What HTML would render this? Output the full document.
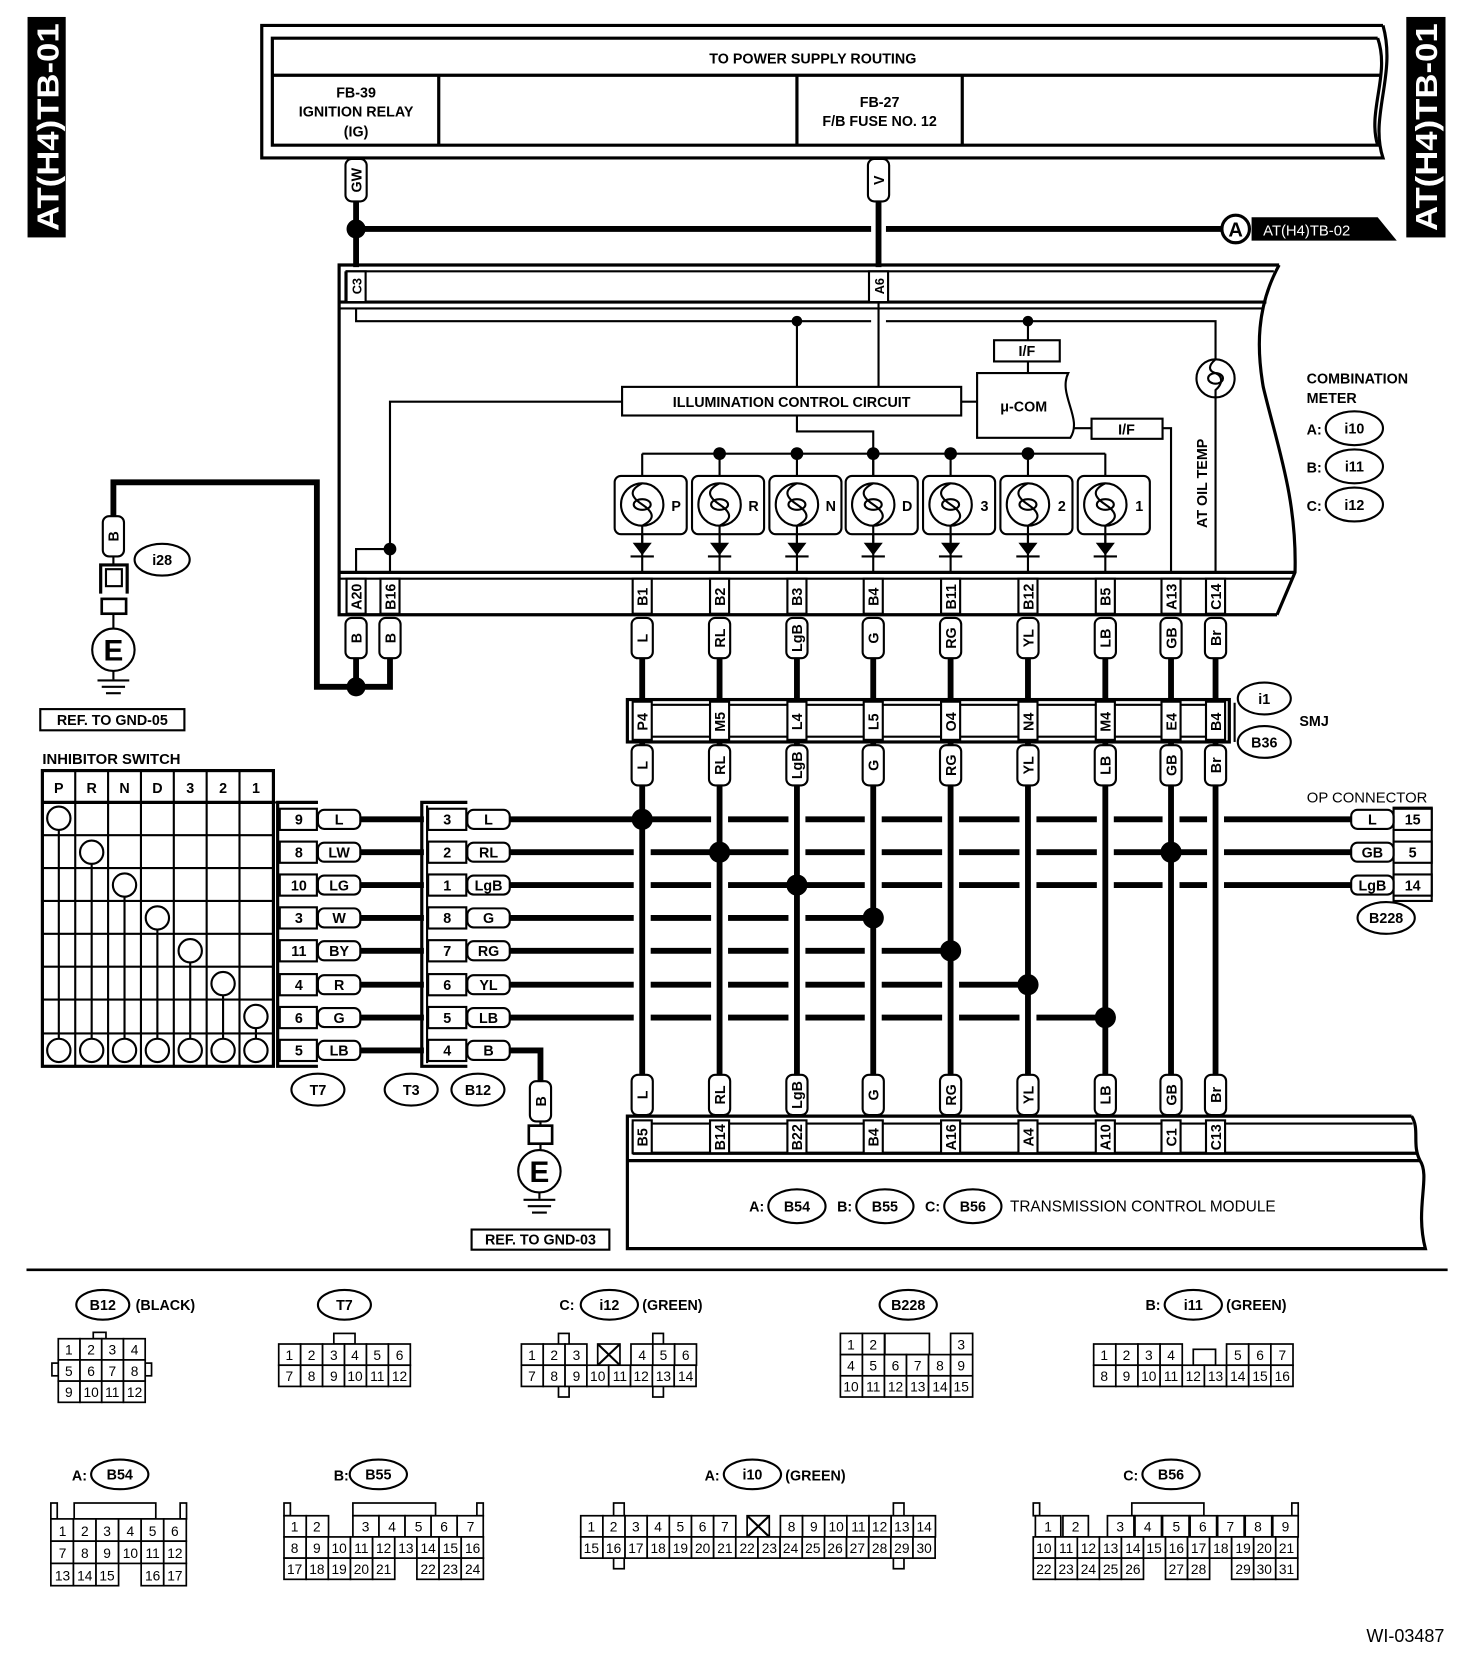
<!DOCTYPE html>
<html><head><meta charset="utf-8"><style>
html,body{margin:0;padding:0;background:#fff}
svg{display:block}
text{font-family:"Liberation Sans",sans-serif;font-weight:bold;font-size:13.5px;fill:#000}
.n text,text.n{font-weight:normal;font-size:13px}
.s{fill:none;stroke:#000;stroke-width:2}
.t{fill:none;stroke:#000;stroke-width:3}
.w{fill:none;stroke:#000;stroke-width:5.5}
.wc{fill:none;stroke:#fff;stroke-width:16}
.p{fill:#fff;stroke:#000;stroke-width:2}
.c rect{fill:#fff;stroke:#000;stroke-width:1.6}
</style></head><body>
<svg width="1472" height="1662" viewBox="0 0 1389 1568" preserveAspectRatio="none" xmlns="http://www.w3.org/2000/svg">
<g text-anchor="middle">
<rect x="26" y="16" width="36" height="208" fill="#000"/>
<text transform="translate(55,120) rotate(-90)" style="font-size:29px;fill:#fff" textLength="196" lengthAdjust="spacingAndGlyphs">AT(H4)TB-01</text>
<rect x="1327" y="16" width="37" height="208" fill="#000"/>
<text transform="translate(1356,120) rotate(-90)" style="font-size:29px;fill:#fff" textLength="196" lengthAdjust="spacingAndGlyphs">AT(H4)TB-01</text>

<path class="t" d="M1305,24 H247 V149 H1305 C1292,110 1318,70 1305,24"/>
<path class="t" d="M1300,36 H257 V137 H1300 C1290,105 1312,70 1300,36"/>
<line class="t" x1="257" y1="71" x2="1303" y2="71"/>
<line class="t" x1="414" y1="71" x2="414" y2="137"/>
<line class="t" x1="752" y1="71" x2="752" y2="137"/>
<line class="t" x1="908" y1="71" x2="908" y2="137"/>
<text x="767" y="60">TO POWER SUPPLY ROUTING</text>
<text x="336" y="92">FB-39</text><text x="336" y="110">IGNITION RELAY</text><text x="336" y="129">(IG)</text>
<text x="830" y="101">FB-27</text><text x="830" y="119">F/B FUSE NO. 12</text>

<line class="w" x1="336" y1="188" x2="336" y2="252"/>
<line class="w" x1="829" y1="188" x2="829" y2="252"/>
<line class="w" x1="336" y1="216" x2="822" y2="216"/>
<line class="w" x1="836" y1="216" x2="1155" y2="216"/>
<circle cx="336" cy="216" r="9"/>
<rect class="p" x="326" y="150" width="20" height="40" rx="6"/>
<text transform="translate(341,170) rotate(-90)">GW</text>
<rect class="p" x="819" y="150" width="20" height="40" rx="6"/>
<text transform="translate(834,170) rotate(-90)">V</text>
<circle cx="1166" cy="216" r="13" fill="#fff" stroke="#000" stroke-width="3"/>
<text x="1166" y="223" style="font-size:19px">A</text>
<polygon points="1181,205 1300,205 1318,227 1181,227" fill="#000"/>
<text x="1233" y="222" style="fill:#fff;font-size:14px;font-weight:normal">AT(H4)TB-02</text>

<path class="t" d="M1207,250 H320 V580 H1205"/>
<line class="s" x1="326" y1="256" x2="1202" y2="256"/>
<line class="s" x1="326" y1="256" x2="326" y2="285"/>
<line class="t" x1="320" y1="285" x2="1195" y2="285"/>
<line class="s" x1="320" y1="291" x2="1192" y2="291"/>
<path class="t" d="M1207,250 C1185,290 1186,330 1192,365 C1205,420 1224,470 1222,540 L1205,580"/>
<line class="t" x1="320" y1="540" x2="1222" y2="540"/>
<line class="s" x1="320" y1="546" x2="1220" y2="546"/>
<rect class="p" x="327" y="256" width="18" height="29"/><text transform="translate(341,270) rotate(-90)" style="font-size:12px">C3</text>
<rect class="p" x="820" y="256" width="18" height="29"/><text transform="translate(834,270) rotate(-90)" style="font-size:12px">A6</text>

<path class="s" d="M336,291 V303 H822 M836,303 H1147 V340"/>
<line class="s" x1="829" y1="285" x2="829" y2="365"/>
<circle cx="752" cy="303" r="5"/><circle cx="970" cy="303" r="5"/>
<line class="s" x1="752" y1="303" x2="752" y2="365"/>
<line class="s" x1="970" y1="303" x2="970" y2="352"/>
<rect class="p" x="938" y="321" width="62" height="20" stroke-width="2.5"/><text x="969" y="336">I/F</text>
<path class="p" stroke-width="2.5" d="M922,352 H1008 C998,372 1022,395 1010,413 H922 Z"/>
<text x="966" y="388">μ-COM</text>
<rect class="p" x="587" y="365" width="320" height="27" stroke-width="2.5"/>
<text x="747" y="384">ILLUMINATION CONTROL CIRCUIT</text>
<line class="s" x1="907" y1="379" x2="922" y2="379"/>
<path class="s" d="M587,379 H368 V540 M336,540 V518 H368"/>
<circle cx="368" cy="518" r="6"/>
<path class="s" d="M752,392 V407 H824 V449"/>
<path class="s" d="M1013,404 H1030 M1097,404 H1105 V540"/>
<rect class="p" x="1030" y="395" width="67" height="19" stroke-width="2.5"/><text x="1063" y="410">I/F</text>
<circle cx="1147" cy="357" r="18" class="p" stroke-width="2.5"/>
<path class="s" d="M1147,339 C1140,345 1140,350 1147,352 C1154,355 1154,362 1147,368 L1147,375"/>
<ellipse cx="1147" cy="357" rx="7" ry="5" class="s"/>
<line class="s" x1="1147" y1="375" x2="1147" y2="540"/>
<text transform="translate(1139,456) rotate(-90)">AT OIL TEMP</text>

<text x="1233" y="362" text-anchor="start">COMBINATION</text>
<text x="1233" y="380" text-anchor="start">METER</text>
<text x="1233" y="410" text-anchor="start">A:</text><ellipse class="p" cx="1278" cy="404" rx="27" ry="16"/><text x="1278" y="409">i10</text>
<text x="1233" y="446" text-anchor="start">B:</text><ellipse class="p" cx="1278" cy="440" rx="27" ry="16"/><text x="1278" y="445">i11</text>
<text x="1233" y="482" text-anchor="start">C:</text><ellipse class="p" cx="1278" cy="476" rx="27" ry="16"/><text x="1278" y="481">i12</text>

<line class="s" x1="606" y1="428" x2="1043" y2="428"/>
<g>
<g transform="translate(606,0)"><line class="s" x1="0" y1="428" x2="0" y2="540"/><rect class="p" x="-26" y="449" width="68" height="55" rx="6"/><circle class="p" cx="0" cy="476" r="20"/><path class="s" d="M0,456 C-12,462 -12,468 0,476 C12,484 12,490 0,496"/><ellipse class="s" cx="0" cy="476" rx="8" ry="5"/><line class="s" x1="0" y1="496" x2="0" y2="512"/><polygon points="-9,512 9,512 0,524"/><line class="s" x1="-11" y1="525" x2="11" y2="525"/><text x="32" y="482">P</text></g>
<g transform="translate(679,0)"><line class="s" x1="0" y1="428" x2="0" y2="540"/><rect class="p" x="-26" y="449" width="68" height="55" rx="6"/><circle class="p" cx="0" cy="476" r="20"/><path class="s" d="M0,456 C-12,462 -12,468 0,476 C12,484 12,490 0,496"/><ellipse class="s" cx="0" cy="476" rx="8" ry="5"/><line class="s" x1="0" y1="496" x2="0" y2="512"/><polygon points="-9,512 9,512 0,524"/><line class="s" x1="-11" y1="525" x2="11" y2="525"/><text x="32" y="482">R</text></g>
<g transform="translate(752,0)"><line class="s" x1="0" y1="428" x2="0" y2="540"/><rect class="p" x="-26" y="449" width="68" height="55" rx="6"/><circle class="p" cx="0" cy="476" r="20"/><path class="s" d="M0,456 C-12,462 -12,468 0,476 C12,484 12,490 0,496"/><ellipse class="s" cx="0" cy="476" rx="8" ry="5"/><line class="s" x1="0" y1="496" x2="0" y2="512"/><polygon points="-9,512 9,512 0,524"/><line class="s" x1="-11" y1="525" x2="11" y2="525"/><text x="32" y="482">N</text></g>
<g transform="translate(824,0)"><line class="s" x1="0" y1="428" x2="0" y2="540"/><rect class="p" x="-26" y="449" width="68" height="55" rx="6"/><circle class="p" cx="0" cy="476" r="20"/><path class="s" d="M0,456 C-12,462 -12,468 0,476 C12,484 12,490 0,496"/><ellipse class="s" cx="0" cy="476" rx="8" ry="5"/><line class="s" x1="0" y1="496" x2="0" y2="512"/><polygon points="-9,512 9,512 0,524"/><line class="s" x1="-11" y1="525" x2="11" y2="525"/><text x="32" y="482">D</text></g>
<g transform="translate(897,0)"><line class="s" x1="0" y1="428" x2="0" y2="540"/><rect class="p" x="-26" y="449" width="68" height="55" rx="6"/><circle class="p" cx="0" cy="476" r="20"/><path class="s" d="M0,456 C-12,462 -12,468 0,476 C12,484 12,490 0,496"/><ellipse class="s" cx="0" cy="476" rx="8" ry="5"/><line class="s" x1="0" y1="496" x2="0" y2="512"/><polygon points="-9,512 9,512 0,524"/><line class="s" x1="-11" y1="525" x2="11" y2="525"/><text x="32" y="482">3</text></g>
<g transform="translate(970,0)"><line class="s" x1="0" y1="428" x2="0" y2="540"/><rect class="p" x="-26" y="449" width="68" height="55" rx="6"/><circle class="p" cx="0" cy="476" r="20"/><path class="s" d="M0,456 C-12,462 -12,468 0,476 C12,484 12,490 0,496"/><ellipse class="s" cx="0" cy="476" rx="8" ry="5"/><line class="s" x1="0" y1="496" x2="0" y2="512"/><polygon points="-9,512 9,512 0,524"/><line class="s" x1="-11" y1="525" x2="11" y2="525"/><text x="32" y="482">2</text></g>
<g transform="translate(1043,0)"><line class="s" x1="0" y1="428" x2="0" y2="540"/><rect class="p" x="-26" y="449" width="68" height="55" rx="6"/><circle class="p" cx="0" cy="476" r="20"/><path class="s" d="M0,456 C-12,462 -12,468 0,476 C12,484 12,490 0,496"/><ellipse class="s" cx="0" cy="476" rx="8" ry="5"/><line class="s" x1="0" y1="496" x2="0" y2="512"/><polygon points="-9,512 9,512 0,524"/><line class="s" x1="-11" y1="525" x2="11" y2="525"/><text x="32" y="482">1</text></g>
</g>
<circle cx="679" cy="428" r="6"/><circle cx="752" cy="428" r="6"/><circle cx="824" cy="428" r="6"/><circle cx="897" cy="428" r="6"/><circle cx="970" cy="428" r="6"/>

<g style="font-size:12.5px">
<rect class="p" x="327" y="546" width="18" height="33"/><text transform="translate(341,563) rotate(-90)">A20</text>
<rect class="p" x="359" y="546" width="18" height="33"/><text transform="translate(373,563) rotate(-90)">B16</text>
<rect class="p" x="597" y="546" width="18" height="33"/><text transform="translate(611,563) rotate(-90)">B1</text>
<rect class="p" x="670" y="546" width="18" height="33"/><text transform="translate(684,563) rotate(-90)">B2</text>
<rect class="p" x="743" y="546" width="18" height="33"/><text transform="translate(757,563) rotate(-90)">B3</text>
<rect class="p" x="815" y="546" width="18" height="33"/><text transform="translate(829,563) rotate(-90)">B4</text>
<rect class="p" x="888" y="546" width="18" height="33"/><text transform="translate(902,563) rotate(-90)">B11</text>
<rect class="p" x="961" y="546" width="18" height="33"/><text transform="translate(975,563) rotate(-90)">B12</text>
<rect class="p" x="1034" y="546" width="18" height="33"/><text transform="translate(1048,563) rotate(-90)">B5</text>
<rect class="p" x="1096" y="546" width="18" height="33"/><text transform="translate(1110,563) rotate(-90)">A13</text>
<rect class="p" x="1138" y="546" width="18" height="33"/><text transform="translate(1152,563) rotate(-90)">C14</text>
</g>

<path class="w" d="M336,620 V648 H368 V620 M336,648 H299 V455 H107 V490"/>
<circle cx="336" cy="648" r="9"/>
<rect class="p" x="97" y="487" width="20" height="38" rx="6"/><text transform="translate(112,506) rotate(-90)">B</text>
<line class="s" x1="107" y1="525" x2="107" y2="533"/>
<path class="t" d="M95,560 V533 H120 V560"/>
<rect class="p" x="100" y="537" width="15" height="16"/>
<rect x="96" y="565" width="23" height="14" fill="#fff" stroke="#000" stroke-width="2.5"/>
<line class="s" x1="107" y1="579" x2="107" y2="593"/>
<circle class="p" cx="107" cy="613" r="20" stroke-width="3"/><text x="107" y="623" style="font-size:28px">E</text>
<line class="s" x1="107" y1="633" x2="107" y2="641"/>
<line class="s" x1="92" y1="642" x2="122" y2="642"/><line class="s" x1="96" y1="648" x2="118" y2="648"/><line class="s" x1="100" y1="654" x2="114" y2="654"/>
<ellipse class="p" cx="153" cy="528" rx="26" ry="15"/><text x="153" y="533">i28</text>
<rect class="p" x="38" y="669" width="136" height="20"/><text x="106" y="684">REF. TO GND-05</text>

<line class="w" x1="340" y1="773" x2="400" y2="773"/><line class="w" x1="340" y1="804" x2="400" y2="804"/>
<line class="w" x1="340" y1="835" x2="400" y2="835"/><line class="w" x1="340" y1="866" x2="400" y2="866"/>
<line class="w" x1="340" y1="897" x2="400" y2="897"/><line class="w" x1="340" y1="929" x2="400" y2="929"/>
<line class="w" x1="340" y1="960" x2="400" y2="960"/><line class="w" x1="340" y1="991" x2="400" y2="991"/>
<line class="w" x1="480" y1="773" x2="1278" y2="773"/>
<line class="w" x1="480" y1="804" x2="1278" y2="804"/>
<line class="w" x1="480" y1="835" x2="1278" y2="835"/>
<line class="w" x1="480" y1="866" x2="824" y2="866"/>
<line class="w" x1="480" y1="897" x2="897" y2="897"/>
<line class="w" x1="480" y1="929" x2="970" y2="929"/>
<line class="w" x1="480" y1="960" x2="1043" y2="960"/>

<g>
<line class="wc" x1="606" y1="745" x2="606" y2="1010"/><line class="wc" x1="679" y1="745" x2="679" y2="1010"/>
<line class="wc" x1="752" y1="745" x2="752" y2="1010"/><line class="wc" x1="824" y1="745" x2="824" y2="1010"/>
<line class="wc" x1="897" y1="745" x2="897" y2="1010"/><line class="wc" x1="970" y1="745" x2="970" y2="1010"/>
<line class="wc" x1="1043" y1="745" x2="1043" y2="1010"/><line class="wc" x1="1105" y1="745" x2="1105" y2="1010"/>
<line class="wc" x1="1147" y1="745" x2="1147" y2="1010"/>
</g>
<g>
<line class="w" x1="606" y1="620" x2="606" y2="1018"/><line class="w" x1="679" y1="620" x2="679" y2="1018"/>
<line class="w" x1="752" y1="620" x2="752" y2="1018"/><line class="w" x1="824" y1="620" x2="824" y2="1018"/>
<line class="w" x1="897" y1="620" x2="897" y2="1018"/><line class="w" x1="970" y1="620" x2="970" y2="1018"/>
<line class="w" x1="1043" y1="620" x2="1043" y2="1018"/><line class="w" x1="1105" y1="620" x2="1105" y2="1018"/>
<line class="w" x1="1147" y1="620" x2="1147" y2="1018"/>
</g>
<circle cx="606" cy="773" r="10"/><circle cx="679" cy="804" r="10"/><circle cx="1105" cy="804" r="10"/>
<circle cx="752" cy="835" r="10"/><circle cx="824" cy="866" r="10"/><circle cx="897" cy="897" r="10"/>
<circle cx="970" cy="929" r="10"/><circle cx="1043" cy="960" r="10"/>

<!-- SMJ (drawn over wires) -->
<rect x="592" y="660" width="568" height="40" fill="#fff" stroke="#000" stroke-width="3"/>
<line class="s" x1="597" y1="665" x2="1155" y2="665"/>
<line class="s" x1="597" y1="695" x2="1155" y2="695"/>
<g style="font-size:12.5px">
<rect class="p" x="597" y="662" width="18" height="36"/><text transform="translate(611,681) rotate(-90)">P4</text>
<rect class="p" x="670" y="662" width="18" height="36"/><text transform="translate(684,681) rotate(-90)">M5</text>
<rect class="p" x="743" y="662" width="18" height="36"/><text transform="translate(757,681) rotate(-90)">L4</text>
<rect class="p" x="815" y="662" width="18" height="36"/><text transform="translate(829,681) rotate(-90)">L5</text>
<rect class="p" x="888" y="662" width="18" height="36"/><text transform="translate(902,681) rotate(-90)">O4</text>
<rect class="p" x="961" y="662" width="18" height="36"/><text transform="translate(975,681) rotate(-90)">N4</text>
<rect class="p" x="1034" y="662" width="18" height="36"/><text transform="translate(1048,681) rotate(-90)">M4</text>
<rect class="p" x="1096" y="662" width="18" height="36"/><text transform="translate(1110,681) rotate(-90)">E4</text>
<rect class="p" x="1138" y="662" width="18" height="36"/><text transform="translate(1152,681) rotate(-90)">B4</text>
</g>
<line class="s" x1="1165" y1="663" x2="1165" y2="700"/>
<ellipse class="p" cx="1193" cy="659" rx="25" ry="15"/><text x="1193" y="664">i1</text>
<ellipse class="p" cx="1193" cy="700" rx="25" ry="15"/><text x="1193" y="705">B36</text>
<text x="1240" y="685">SMJ</text>

<g style="font-size:13px">
<rect class="p" x="326" y="583" width="20" height="38" rx="6"/><text transform="translate(341,602) rotate(-90)">B</text>
<rect class="p" x="358" y="583" width="20" height="38" rx="6"/><text transform="translate(373,602) rotate(-90)">B</text>
<rect class="p" x="596" y="583" width="20" height="38" rx="6"/><text transform="translate(611,602) rotate(-90)">L</text>
<rect class="p" x="669" y="583" width="20" height="38" rx="6"/><text transform="translate(684,602) rotate(-90)">RL</text>
<rect class="p" x="742" y="583" width="20" height="38" rx="6"/><text transform="translate(757,602) rotate(-90)">LgB</text>
<rect class="p" x="814" y="583" width="20" height="38" rx="6"/><text transform="translate(829,602) rotate(-90)">G</text>
<rect class="p" x="887" y="583" width="20" height="38" rx="6"/><text transform="translate(902,602) rotate(-90)">RG</text>
<rect class="p" x="960" y="583" width="20" height="38" rx="6"/><text transform="translate(975,602) rotate(-90)">YL</text>
<rect class="p" x="1033" y="583" width="20" height="38" rx="6"/><text transform="translate(1048,602) rotate(-90)">LB</text>
<rect class="p" x="1095" y="583" width="20" height="38" rx="6"/><text transform="translate(1110,602) rotate(-90)">GB</text>
<rect class="p" x="1137" y="583" width="20" height="38" rx="6"/><text transform="translate(1152,602) rotate(-90)">Br</text>

<rect class="p" x="596" y="703" width="20" height="38" rx="6"/><text transform="translate(611,722) rotate(-90)">L</text>
<rect class="p" x="669" y="703" width="20" height="38" rx="6"/><text transform="translate(684,722) rotate(-90)">RL</text>
<rect class="p" x="742" y="703" width="20" height="38" rx="6"/><text transform="translate(757,722) rotate(-90)">LgB</text>
<rect class="p" x="814" y="703" width="20" height="38" rx="6"/><text transform="translate(829,722) rotate(-90)">G</text>
<rect class="p" x="887" y="703" width="20" height="38" rx="6"/><text transform="translate(902,722) rotate(-90)">RG</text>
<rect class="p" x="960" y="703" width="20" height="38" rx="6"/><text transform="translate(975,722) rotate(-90)">YL</text>
<rect class="p" x="1033" y="703" width="20" height="38" rx="6"/><text transform="translate(1048,722) rotate(-90)">LB</text>
<rect class="p" x="1095" y="703" width="20" height="38" rx="6"/><text transform="translate(1110,722) rotate(-90)">GB</text>
<rect class="p" x="1137" y="703" width="20" height="38" rx="6"/><text transform="translate(1152,722) rotate(-90)">Br</text>

<rect class="p" x="596" y="1014" width="20" height="38" rx="6"/><text transform="translate(611,1033) rotate(-90)">L</text>
<rect class="p" x="669" y="1014" width="20" height="38" rx="6"/><text transform="translate(684,1033) rotate(-90)">RL</text>
<rect class="p" x="742" y="1014" width="20" height="38" rx="6"/><text transform="translate(757,1033) rotate(-90)">LgB</text>
<rect class="p" x="814" y="1014" width="20" height="38" rx="6"/><text transform="translate(829,1033) rotate(-90)">G</text>
<rect class="p" x="887" y="1014" width="20" height="38" rx="6"/><text transform="translate(902,1033) rotate(-90)">RG</text>
<rect class="p" x="960" y="1014" width="20" height="38" rx="6"/><text transform="translate(975,1033) rotate(-90)">YL</text>
<rect class="p" x="1033" y="1014" width="20" height="38" rx="6"/><text transform="translate(1048,1033) rotate(-90)">LB</text>
<rect class="p" x="1095" y="1014" width="20" height="38" rx="6"/><text transform="translate(1110,1033) rotate(-90)">GB</text>
<rect class="p" x="1137" y="1014" width="20" height="38" rx="6"/><text transform="translate(1152,1033) rotate(-90)">Br</text>
</g>

<text x="1290" y="757" style="font-size:14px;font-weight:normal">OP CONNECTOR</text>
<rect class="p" x="1315" y="762" width="36" height="88" stroke-width="2.5"/>
<rect class="p" x="1315" y="763" width="36" height="20"/><text x="1333" y="778">15</text>
<rect class="p" x="1315" y="794" width="36" height="20"/><text x="1333" y="809">5</text>
<rect class="p" x="1315" y="825" width="36" height="20"/><text x="1333" y="840">14</text>
<rect class="p" x="1275" y="764" width="40" height="18" rx="6"/><text x="1295" y="778">L</text>
<rect class="p" x="1275" y="795" width="40" height="18" rx="6"/><text x="1295" y="809">GB</text>
<rect class="p" x="1275" y="826" width="40" height="18" rx="6"/><text x="1295" y="840">LgB</text>
<ellipse class="p" cx="1308" cy="866" rx="27" ry="15"/><text x="1308" y="871">B228</text>

<text x="40" y="721" text-anchor="start" style="font-size:14px">INHIBITOR SWITCH</text>
<rect class="t" x="40" y="727" width="218" height="279"/>
<path class="s" d="M71,727V1006M102,727V1006M133,727V1006M164,727V1006M195,727V1006M226,727V1006"/>
<path class="s" d="M40,757H300M40,788H258M40,819H258M40,850H258M40,881H258M40,912H258M40,943H258M40,975H258"/>
<line class="t" x1="40" y1="757" x2="258" y2="757"/>
<text x="55.5" y="748">P</text><text x="86.5" y="748">R</text><text x="117.5" y="748">N</text><text x="148.5" y="748">D</text><text x="179.5" y="748">3</text><text x="210.5" y="748">2</text><text x="241.5" y="748">1</text>
<g class="s">
<line x1="55.5" y1="772" x2="55.5" y2="990"/><line x1="86.5" y1="804" x2="86.5" y2="990"/><line x1="117.5" y1="835" x2="117.5" y2="990"/><line x1="148.5" y1="866" x2="148.5" y2="990"/><line x1="179.5" y1="897" x2="179.5" y2="990"/><line x1="210.5" y1="928" x2="210.5" y2="990"/><line x1="241.5" y1="959" x2="241.5" y2="990"/>
</g>
<g fill="#fff" stroke="#000" stroke-width="2">
<circle cx="55.5" cy="772" r="11"/><circle cx="86.5" cy="804" r="11"/><circle cx="117.5" cy="835" r="11"/><circle cx="148.5" cy="866" r="11"/><circle cx="179.5" cy="897" r="11"/><circle cx="210.5" cy="928" r="11"/><circle cx="241.5" cy="959" r="11"/>
<circle cx="55.5" cy="991" r="11"/><circle cx="86.5" cy="991" r="11"/><circle cx="117.5" cy="991" r="11"/><circle cx="148.5" cy="991" r="11"/><circle cx="179.5" cy="991" r="11"/><circle cx="210.5" cy="991" r="11"/><circle cx="241.5" cy="991" r="11"/>
</g>

<path class="t" d="M300,757 H262 V1006 H300"/>
<g>
<rect class="p" x="264" y="763" width="35" height="20"/><text x="282" y="778">9</text>
<rect class="p" x="264" y="794" width="35" height="20"/><text x="282" y="809">8</text>
<rect class="p" x="264" y="825" width="35" height="20"/><text x="282" y="840">10</text>
<rect class="p" x="264" y="856" width="35" height="20"/><text x="282" y="871">3</text>
<rect class="p" x="264" y="887" width="35" height="20"/><text x="282" y="902">11</text>
<rect class="p" x="264" y="919" width="35" height="20"/><text x="282" y="934">4</text>
<rect class="p" x="264" y="950" width="35" height="20"/><text x="282" y="965">6</text>
<rect class="p" x="264" y="981" width="35" height="20"/><text x="282" y="996">5</text>
</g>
<g>
<rect class="p" x="300" y="764" width="40" height="18" rx="6"/><text x="320" y="778">L</text>
<rect class="p" x="300" y="795" width="40" height="18" rx="6"/><text x="320" y="809">LW</text>
<rect class="p" x="300" y="826" width="40" height="18" rx="6"/><text x="320" y="840">LG</text>
<rect class="p" x="300" y="857" width="40" height="18" rx="6"/><text x="320" y="871">W</text>
<rect class="p" x="300" y="888" width="40" height="18" rx="6"/><text x="320" y="902">BY</text>
<rect class="p" x="300" y="920" width="40" height="18" rx="6"/><text x="320" y="934">R</text>
<rect class="p" x="300" y="951" width="40" height="18" rx="6"/><text x="320" y="965">G</text>
<rect class="p" x="300" y="982" width="40" height="18" rx="6"/><text x="320" y="996">LB</text>
</g>
<path class="t" d="M441,757 H398 V1006 H441"/>
<line class="s" x1="403" y1="760" x2="403" y2="1003"/>
<g>
<rect class="p" x="404" y="763" width="36" height="20"/><text x="422" y="778">3</text>
<rect class="p" x="404" y="794" width="36" height="20"/><text x="422" y="809">2</text>
<rect class="p" x="404" y="825" width="36" height="20"/><text x="422" y="840">1</text>
<rect class="p" x="404" y="856" width="36" height="20"/><text x="422" y="871">8</text>
<rect class="p" x="404" y="887" width="36" height="20"/><text x="422" y="902">7</text>
<rect class="p" x="404" y="919" width="36" height="20"/><text x="422" y="934">6</text>
<rect class="p" x="404" y="950" width="36" height="20"/><text x="422" y="965">5</text>
<rect class="p" x="404" y="981" width="36" height="20"/><text x="422" y="996">4</text>
</g>
<path class="w" d="M480,991 H510 V1022"/>
<g>
<rect class="p" x="441" y="764" width="40" height="18" rx="6"/><text x="461" y="778">L</text>
<rect class="p" x="441" y="795" width="40" height="18" rx="6"/><text x="461" y="809">RL</text>
<rect class="p" x="441" y="826" width="40" height="18" rx="6"/><text x="461" y="840">LgB</text>
<rect class="p" x="441" y="857" width="40" height="18" rx="6"/><text x="461" y="871">G</text>
<rect class="p" x="441" y="888" width="40" height="18" rx="6"/><text x="461" y="902">RG</text>
<rect class="p" x="441" y="920" width="40" height="18" rx="6"/><text x="461" y="934">YL</text>
<rect class="p" x="441" y="951" width="40" height="18" rx="6"/><text x="461" y="965">LB</text>
<rect class="p" x="441" y="982" width="40" height="18" rx="6"/><text x="461" y="996">B</text>
</g>
<ellipse class="p" cx="300" cy="1028" rx="25" ry="15"/><text x="300" y="1033">T7</text>
<ellipse class="p" cx="388" cy="1028" rx="25" ry="15"/><text x="388" y="1033">T3</text>
<ellipse class="p" cx="451" cy="1028" rx="25" ry="15"/><text x="451" y="1033">B12</text>

<rect class="p" x="500" y="1020" width="20" height="38" rx="6"/><text transform="translate(515,1039) rotate(-90)">B</text>
<line class="s" x1="510" y1="1058" x2="510" y2="1062"/>
<rect x="499" y="1062" width="22" height="17" fill="#fff" stroke="#000" stroke-width="2.5"/>
<line class="s" x1="510" y1="1079" x2="510" y2="1085"/>
<circle class="p" cx="509" cy="1105" r="20" stroke-width="3"/><text x="509" y="1115" style="font-size:28px">E</text>
<line class="s" x1="509" y1="1125" x2="509" y2="1131"/>
<line class="s" x1="494" y1="1132" x2="524" y2="1132"/><line class="s" x1="498" y1="1138" x2="520" y2="1138"/><line class="s" x1="502" y1="1144" x2="516" y2="1144"/>
<rect class="p" x="445" y="1160" width="130" height="19"/><text x="510" y="1174">REF. TO GND-03</text>

<path class="t" d="M1332,1053 H592 V1178 H1345 C1335,1140 1350,1110 1340,1095 C1332,1080 1340,1065 1332,1053"/>
<line class="s" x1="597" y1="1060" x2="1333" y2="1060"/>
<line class="s" x1="597" y1="1060" x2="597" y2="1088"/>
<line class="t" x1="597" y1="1088" x2="1338" y2="1088"/>
<line class="t" x1="592" y1="1095" x2="1340" y2="1095"/>
<g style="font-size:12.5px">
<rect class="p" x="597" y="1057" width="18" height="31"/><text transform="translate(611,1073) rotate(-90)">B5</text>
<rect class="p" x="670" y="1057" width="18" height="31"/><text transform="translate(684,1073) rotate(-90)">B14</text>
<rect class="p" x="743" y="1057" width="18" height="31"/><text transform="translate(757,1073) rotate(-90)">B22</text>
<rect class="p" x="815" y="1057" width="18" height="31"/><text transform="translate(829,1073) rotate(-90)">B4</text>
<rect class="p" x="888" y="1057" width="18" height="31"/><text transform="translate(902,1073) rotate(-90)">A16</text>
<rect class="p" x="961" y="1057" width="18" height="31"/><text transform="translate(975,1073) rotate(-90)">A4</text>
<rect class="p" x="1034" y="1057" width="18" height="31"/><text transform="translate(1048,1073) rotate(-90)">A10</text>
<rect class="p" x="1096" y="1057" width="18" height="31"/><text transform="translate(1110,1073) rotate(-90)">C1</text>
<rect class="p" x="1138" y="1057" width="18" height="31"/><text transform="translate(1152,1073) rotate(-90)">C13</text>
</g>
<text x="714" y="1143">A:</text><ellipse class="p" cx="752" cy="1138" rx="27" ry="16"/><text x="752" y="1143">B54</text>
<text x="797" y="1143">B:</text><ellipse class="p" cx="835" cy="1138" rx="27" ry="16"/><text x="835" y="1143">B55</text>
<text x="880" y="1143">C:</text><ellipse class="p" cx="918" cy="1138" rx="27" ry="16"/><text x="918" y="1143">B56</text>
<text x="953" y="1143" text-anchor="start" style="font-weight:normal;font-size:14.5px">TRANSMISSION CONTROL MODULE</text>

<line x1="25" y1="1198" x2="1366" y2="1198" stroke="#000" stroke-width="2.5"/>

<ellipse class="p" cx="97" cy="1231" rx="25" ry="14"/><text x="97" y="1236">B12</text><text x="128" y="1236" text-anchor="start">(BLACK)</text>
<ellipse class="p" cx="325" cy="1231" rx="25" ry="14"/><text x="325" y="1236">T7</text>
<text x="535" y="1236">C:</text><ellipse class="p" cx="575" cy="1231" rx="27" ry="14"/><text x="575" y="1236">i12</text><text x="606" y="1236" text-anchor="start">(GREEN)</text>
<ellipse class="p" cx="857" cy="1231" rx="27" ry="14"/><text x="857" y="1236">B228</text>
<text x="1088" y="1236">B:</text><ellipse class="p" cx="1126" cy="1231" rx="27" ry="14"/><text x="1126" y="1236">i11</text><text x="1157" y="1236" text-anchor="start">(GREEN)</text>
<text x="75" y="1397">A:</text><ellipse class="p" cx="113" cy="1391" rx="27" ry="14"/><text x="113" y="1396">B54</text>
<text x="322" y="1397">B:</text><ellipse class="p" cx="357" cy="1391" rx="27" ry="14"/><text x="357" y="1396">B55</text>
<text x="672" y="1397">A:</text><ellipse class="p" cx="710" cy="1391" rx="27" ry="14"/><text x="710" y="1396">i10</text><text x="741" y="1397" text-anchor="start">(GREEN)</text>
<text x="1067" y="1397">C:</text><ellipse class="p" cx="1105" cy="1391" rx="27" ry="14"/><text x="1105" y="1396">B56</text>
<text x="1363" y="1549" text-anchor="end" style="font-weight:normal;font-size:17px">WI-03487</text>
</g>

<g class="c">
<rect x="88" y="1257" width="12" height="6"/><rect x="49" y="1286" width="6" height="12"/><rect x="137" y="1286" width="6" height="12"/>
<rect x="55" y="1263" width="20.5" height="20"/><rect x="75.5" y="1263" width="20.5" height="20"/><rect x="96" y="1263" width="20.5" height="20"/><rect x="116.5" y="1263" width="20.5" height="20"/>
<rect x="55" y="1283" width="20.5" height="20"/><rect x="75.5" y="1283" width="20.5" height="20"/><rect x="96" y="1283" width="20.5" height="20"/><rect x="116.5" y="1283" width="20.5" height="20"/>
<rect x="55" y="1303" width="20.5" height="20"/><rect x="75.5" y="1303" width="20.5" height="20"/><rect x="96" y="1303" width="20.5" height="20"/><rect x="116.5" y="1303" width="20.5" height="20"/>
<rect x="315" y="1258" width="20" height="10"/>
<rect x="263" y="1268" width="20.7" height="20"/><rect x="283.7" y="1268" width="20.7" height="20"/><rect x="304.4" y="1268" width="20.7" height="20"/><rect x="325.1" y="1268" width="20.7" height="20"/><rect x="345.8" y="1268" width="20.7" height="20"/><rect x="366.5" y="1268" width="20.7" height="20"/>
<rect x="263" y="1288" width="20.7" height="20"/><rect x="283.7" y="1288" width="20.7" height="20"/><rect x="304.4" y="1288" width="20.7" height="20"/><rect x="325.1" y="1288" width="20.7" height="20"/><rect x="345.8" y="1288" width="20.7" height="20"/><rect x="366.5" y="1288" width="20.7" height="20"/>
<rect x="527" y="1258" width="10" height="60"/><rect x="616" y="1258" width="10" height="60"/>
<rect x="492" y="1268" width="20.6" height="20"/><rect x="512.6" y="1268" width="20.6" height="20"/><rect x="533.2" y="1268" width="20.6" height="20"/><rect x="564" y="1268" width="21" height="20"/><rect x="595.4" y="1268" width="20.6" height="20"/><rect x="616" y="1268" width="20.6" height="20"/><rect x="636.6" y="1268" width="20.6" height="20"/>
<rect x="492" y="1288" width="20.6" height="20"/><rect x="512.6" y="1288" width="20.6" height="20"/><rect x="533.2" y="1288" width="20.6" height="20"/><rect x="553.8" y="1288" width="20.6" height="20"/><rect x="574.4" y="1288" width="20.6" height="20"/><rect x="595" y="1288" width="20.6" height="20"/><rect x="615.6" y="1288" width="20.6" height="20"/><rect x="636.2" y="1288" width="20.6" height="20"/>
<rect x="835" y="1258" width="42" height="20"/>
<rect x="793" y="1258" width="20.8" height="20"/><rect x="813.8" y="1258" width="20.8" height="20"/><rect x="897" y="1258" width="20.8" height="20"/>
<rect x="793" y="1278" width="20.8" height="20"/><rect x="813.8" y="1278" width="20.8" height="20"/><rect x="834.6" y="1278" width="20.8" height="20"/><rect x="855.4" y="1278" width="20.8" height="20"/><rect x="876.2" y="1278" width="20.8" height="20"/><rect x="897" y="1278" width="20.8" height="20"/>
<rect x="793" y="1298" width="20.8" height="20"/><rect x="813.8" y="1298" width="20.8" height="20"/><rect x="834.6" y="1298" width="20.8" height="20"/><rect x="855.4" y="1298" width="20.8" height="20"/><rect x="876.2" y="1298" width="20.8" height="20"/><rect x="897" y="1298" width="20.8" height="20"/>
<rect x="1126" y="1273" width="21" height="15"/>
<rect x="1032" y="1268" width="20.9" height="20"/><rect x="1052.9" y="1268" width="20.9" height="20"/><rect x="1073.8" y="1268" width="20.9" height="20"/><rect x="1094.7" y="1268" width="20.9" height="20"/><rect x="1157.4" y="1268" width="20.9" height="20"/><rect x="1178.3" y="1268" width="20.9" height="20"/><rect x="1199.2" y="1268" width="20.9" height="20"/>
<rect x="1032" y="1288" width="20.9" height="20"/><rect x="1052.9" y="1288" width="20.9" height="20"/><rect x="1073.8" y="1288" width="20.9" height="20"/><rect x="1094.7" y="1288" width="20.9" height="20"/><rect x="1115.6" y="1288" width="20.9" height="20"/><rect x="1136.5" y="1288" width="20.9" height="20"/><rect x="1157.4" y="1288" width="20.9" height="20"/><rect x="1178.3" y="1288" width="20.9" height="20"/><rect x="1199.2" y="1288" width="20.9" height="20"/>
<rect x="48" y="1418" width="6" height="15"/><rect x="170" y="1418" width="6" height="15"/><rect x="70" y="1418" width="77" height="15"/>
<rect x="48" y="1433" width="21.3" height="21"/><rect x="69.3" y="1433" width="21.3" height="21"/><rect x="90.6" y="1433" width="21.3" height="21"/><rect x="111.9" y="1433" width="21.3" height="21"/><rect x="133.2" y="1433" width="21.3" height="21"/><rect x="154.5" y="1433" width="21.3" height="21"/>
<rect x="48" y="1454" width="21.3" height="21"/><rect x="69.3" y="1454" width="21.3" height="21"/><rect x="90.6" y="1454" width="21.3" height="21"/><rect x="111.9" y="1454" width="21.3" height="21"/><rect x="133.2" y="1454" width="21.3" height="21"/><rect x="154.5" y="1454" width="21.3" height="21"/>
<rect x="48" y="1475" width="21.3" height="21"/><rect x="69.3" y="1475" width="21.3" height="21"/><rect x="90.6" y="1475" width="21.3" height="21"/><rect x="133.2" y="1475" width="21.3" height="21"/><rect x="154.5" y="1475" width="21.3" height="21"/>
<rect x="268" y="1418" width="6" height="12"/><rect x="450" y="1418" width="6" height="12"/><rect x="333" y="1418" width="78" height="12"/>
<rect x="268" y="1430" width="21" height="20"/><rect x="289" y="1430" width="21" height="20"/>
<rect x="333" y="1430" width="24.6" height="20"/><rect x="357.6" y="1430" width="24.6" height="20"/><rect x="382.2" y="1430" width="24.6" height="20"/><rect x="406.8" y="1430" width="24.6" height="20"/><rect x="431.4" y="1430" width="24.6" height="20"/>
<rect x="268" y="1450" width="20.9" height="20"/><rect x="288.9" y="1450" width="20.9" height="20"/><rect x="309.8" y="1450" width="20.9" height="20"/><rect x="330.7" y="1450" width="20.9" height="20"/><rect x="351.6" y="1450" width="20.9" height="20"/><rect x="372.5" y="1450" width="20.9" height="20"/><rect x="393.4" y="1450" width="20.9" height="20"/><rect x="414.3" y="1450" width="20.9" height="20"/><rect x="435.2" y="1450" width="20.9" height="20"/>
<rect x="268" y="1470" width="20.9" height="20"/><rect x="288.9" y="1470" width="20.9" height="20"/><rect x="309.8" y="1470" width="20.9" height="20"/><rect x="330.7" y="1470" width="20.9" height="20"/><rect x="351.6" y="1470" width="20.9" height="20"/><rect x="393.4" y="1470" width="20.9" height="20"/><rect x="414.3" y="1470" width="20.9" height="20"/><rect x="435.2" y="1470" width="20.9" height="20"/>
<rect x="579" y="1418" width="10" height="62"/><rect x="843" y="1418" width="10" height="62"/>
<rect x="548" y="1430" width="20.9" height="20"/><rect x="568.9" y="1430" width="20.9" height="20"/><rect x="589.8" y="1430" width="20.9" height="20"/><rect x="610.7" y="1430" width="20.9" height="20"/><rect x="631.6" y="1430" width="20.9" height="20"/><rect x="652.5" y="1430" width="20.9" height="20"/><rect x="673.4" y="1430" width="20.9" height="20"/><rect x="705" y="1430" width="20.9" height="20"/>
<rect x="736.4" y="1430" width="20.9" height="20"/><rect x="757.3" y="1430" width="20.9" height="20"/><rect x="778.2" y="1430" width="20.9" height="20"/><rect x="799.1" y="1430" width="20.9" height="20"/><rect x="820" y="1430" width="20.9" height="20"/><rect x="840.9" y="1430" width="20.9" height="20"/><rect x="861.8" y="1430" width="20.9" height="20"/>
<rect x="548" y="1450" width="20.9" height="20"/><rect x="568.9" y="1450" width="20.9" height="20"/><rect x="589.8" y="1450" width="20.9" height="20"/><rect x="610.7" y="1450" width="20.9" height="20"/><rect x="631.6" y="1450" width="20.9" height="20"/><rect x="652.5" y="1450" width="20.9" height="20"/><rect x="673.4" y="1450" width="20.9" height="20"/><rect x="694.3" y="1450" width="20.9" height="20"/><rect x="715.2" y="1450" width="20.9" height="20"/><rect x="736.1" y="1450" width="20.9" height="20"/><rect x="757" y="1450" width="20.9" height="20"/><rect x="777.9" y="1450" width="20.9" height="20"/><rect x="798.8" y="1450" width="20.9" height="20"/><rect x="819.7" y="1450" width="20.9" height="20"/><rect x="840.6" y="1450" width="20.9" height="20"/><rect x="861.5" y="1450" width="20.9" height="20"/>
<rect x="975" y="1418" width="6" height="12"/><rect x="1219" y="1418" width="6" height="12"/><rect x="1068" y="1418" width="68" height="12"/>
<rect x="977" y="1430" width="24" height="20"/><rect x="1003" y="1430" width="24" height="20"/>
<rect x="1045" y="1430" width="25" height="20"/><rect x="1071" y="1430" width="25" height="20"/><rect x="1097" y="1430" width="25" height="20"/><rect x="1123" y="1430" width="25" height="20"/><rect x="1149" y="1430" width="25" height="20"/><rect x="1175" y="1430" width="25" height="20"/><rect x="1201" y="1430" width="24" height="20"/>
<rect x="975" y="1450" width="20.8" height="20"/><rect x="995.8" y="1450" width="20.8" height="20"/><rect x="1016.6" y="1450" width="20.8" height="20"/><rect x="1037.4" y="1450" width="20.8" height="20"/><rect x="1058.2" y="1450" width="20.8" height="20"/><rect x="1079" y="1450" width="20.8" height="20"/><rect x="1099.8" y="1450" width="20.8" height="20"/><rect x="1120.6" y="1450" width="20.8" height="20"/><rect x="1141.4" y="1450" width="20.8" height="20"/><rect x="1162.2" y="1450" width="20.8" height="20"/><rect x="1183" y="1450" width="20.8" height="20"/><rect x="1203.8" y="1450" width="20.8" height="20"/>
<rect x="975" y="1470" width="20.8" height="20"/><rect x="995.8" y="1470" width="20.8" height="20"/><rect x="1016.6" y="1470" width="20.8" height="20"/><rect x="1037.4" y="1470" width="20.8" height="20"/><rect x="1058.2" y="1470" width="20.8" height="20"/><rect x="1099.8" y="1470" width="20.8" height="20"/><rect x="1120.6" y="1470" width="20.8" height="20"/><rect x="1162.2" y="1470" width="20.8" height="20"/><rect x="1183" y="1470" width="20.8" height="20"/><rect x="1203.8" y="1470" width="20.8" height="20"/>
</g>
<path class="s" stroke-width="1.5" d="M564,1268 L585,1288 M585,1268 L564,1288 M705,1430 L726,1450 M726,1430 L705,1450"/>

<g class="n" text-anchor="middle">
<text x="65" y="1278">1</text><text x="86" y="1278">2</text><text x="106" y="1278">3</text><text x="127" y="1278">4</text>
<text x="65" y="1298">5</text><text x="86" y="1298">6</text><text x="106" y="1298">7</text><text x="127" y="1298">8</text>
<text x="65" y="1318">9</text><text x="86" y="1318">10</text><text x="106" y="1318">11</text><text x="127" y="1318">12</text>
<text x="273" y="1283">1</text><text x="294" y="1283">2</text><text x="315" y="1283">3</text><text x="335" y="1283">4</text><text x="356" y="1283">5</text><text x="377" y="1283">6</text>
<text x="273" y="1303">7</text><text x="294" y="1303">8</text><text x="315" y="1303">9</text><text x="335" y="1303">10</text><text x="356" y="1303">11</text><text x="377" y="1303">12</text>
<text x="502" y="1283">1</text><text x="523" y="1283">2</text><text x="544" y="1283">3</text><text x="606" y="1283">4</text><text x="626" y="1283">5</text><text x="647" y="1283">6</text>
<text x="502" y="1303">7</text><text x="523" y="1303">8</text><text x="544" y="1303">9</text><text x="564" y="1303">10</text><text x="585" y="1303">11</text><text x="605" y="1303">12</text><text x="626" y="1303">13</text><text x="647" y="1303">14</text>
<text x="803" y="1273">1</text><text x="824" y="1273">2</text><text x="907" y="1273">3</text>
<text x="803" y="1293">4</text><text x="824" y="1293">5</text><text x="845" y="1293">6</text><text x="866" y="1293">7</text><text x="887" y="1293">8</text><text x="907" y="1293">9</text>
<text x="803" y="1313">10</text><text x="824" y="1313">11</text><text x="845" y="1313">12</text><text x="866" y="1313">13</text><text x="887" y="1313">14</text><text x="907" y="1313">15</text>
<text x="1042" y="1283">1</text><text x="1063" y="1283">2</text><text x="1084" y="1283">3</text><text x="1105" y="1283">4</text><text x="1168" y="1283">5</text><text x="1189" y="1283">6</text><text x="1210" y="1283">7</text>
<text x="1042" y="1303">8</text><text x="1063" y="1303">9</text><text x="1084" y="1303">10</text><text x="1105" y="1303">11</text><text x="1126" y="1303">12</text><text x="1147" y="1303">13</text><text x="1168" y="1303">14</text><text x="1189" y="1303">15</text><text x="1210" y="1303">16</text>
<text x="59" y="1449">1</text><text x="80" y="1449">2</text><text x="101" y="1449">3</text><text x="123" y="1449">4</text><text x="144" y="1449">5</text><text x="165" y="1449">6</text>
<text x="59" y="1470">7</text><text x="80" y="1470">8</text><text x="101" y="1470">9</text><text x="123" y="1470">10</text><text x="144" y="1470">11</text><text x="165" y="1470">12</text>
<text x="59" y="1491">13</text><text x="80" y="1491">14</text><text x="101" y="1491">15</text><text x="144" y="1491">16</text><text x="165" y="1491">17</text>
<text x="278" y="1445">1</text><text x="299" y="1445">2</text><text x="345" y="1445">3</text><text x="370" y="1445">4</text><text x="395" y="1445">5</text><text x="419" y="1445">6</text><text x="444" y="1445">7</text>
<text x="278" y="1465">8</text><text x="299" y="1465">9</text><text x="320" y="1465">10</text><text x="341" y="1465">11</text><text x="362" y="1465">12</text><text x="383" y="1465">13</text><text x="404" y="1465">14</text><text x="425" y="1465">15</text><text x="446" y="1465">16</text>
<text x="278" y="1485">17</text><text x="299" y="1485">18</text><text x="320" y="1485">19</text><text x="341" y="1485">20</text><text x="362" y="1485">21</text><text x="404" y="1485">22</text><text x="425" y="1485">23</text><text x="446" y="1485">24</text>
<text x="558" y="1445">1</text><text x="579" y="1445">2</text><text x="600" y="1445">3</text><text x="621" y="1445">4</text><text x="642" y="1445">5</text><text x="663" y="1445">6</text><text x="684" y="1445">7</text>
<text x="747" y="1445">8</text><text x="768" y="1445">9</text><text x="789" y="1445">10</text><text x="810" y="1445">11</text><text x="830" y="1445">12</text><text x="851" y="1445">13</text><text x="872" y="1445">14</text>
<text x="558" y="1465">15</text><text x="579" y="1465">16</text><text x="600" y="1465">17</text><text x="621" y="1465">18</text><text x="642" y="1465">19</text><text x="663" y="1465">20</text><text x="684" y="1465">21</text><text x="705" y="1465">22</text><text x="726" y="1465">23</text><text x="746" y="1465">24</text><text x="767" y="1465">25</text><text x="788" y="1465">26</text><text x="809" y="1465">27</text><text x="830" y="1465">28</text><text x="851" y="1465">29</text><text x="872" y="1465">30</text>
<text x="989" y="1445">1</text><text x="1015" y="1445">2</text><text x="1057" y="1445">3</text><text x="1083" y="1445">4</text><text x="1110" y="1445">5</text><text x="1135" y="1445">6</text><text x="1161" y="1445">7</text><text x="1187" y="1445">8</text><text x="1213" y="1445">9</text>
<text x="985" y="1465">10</text><text x="1006" y="1465">11</text><text x="1027" y="1465">12</text><text x="1048" y="1465">13</text><text x="1069" y="1465">14</text><text x="1089" y="1465">15</text><text x="1110" y="1465">16</text><text x="1131" y="1465">17</text><text x="1152" y="1465">18</text><text x="1173" y="1465">19</text><text x="1193" y="1465">20</text><text x="1214" y="1465">21</text>
<text x="985" y="1485">22</text><text x="1006" y="1485">23</text><text x="1027" y="1485">24</text><text x="1048" y="1485">25</text><text x="1069" y="1485">26</text><text x="1110" y="1485">27</text><text x="1131" y="1485">28</text><text x="1173" y="1485">29</text><text x="1193" y="1485">30</text><text x="1214" y="1485">31</text>
</g>
</svg>
</body></html>
